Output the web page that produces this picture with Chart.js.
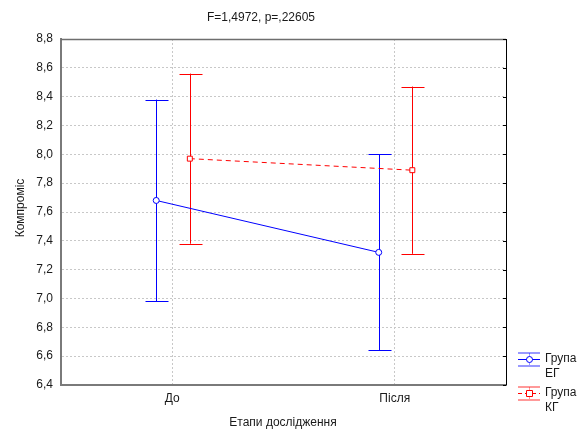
<!DOCTYPE html>
<html>
<head>
<meta charset="utf-8">
<script src="https://cdn.jsdelivr.net/npm/chart.js@4/dist/chart.umd.min.js"></script>
<style>
  html, body { margin: 0; padding: 0; background: #fff; }
  #wrap { width: 583px; height: 429px; }
</style>
</head>
<body>
<div id="wrap"><canvas id="c" width="583" height="429"></canvas></div>
<script>
// Stages of the study (x categories)
const categories = ['До', 'Після'];
// Group ЕГ: means and interval bounds
const egMeans = [7.68, 7.32];
const egLower = [6.98, 6.64];
const egUpper = [8.38, 8.00];
// Group КГ: means and interval bounds
const kgMeans = [7.97, 7.89];
const kgLower = [7.38, 7.31];
const kgUpper = [8.56, 8.47];
// Y tick range
const yMin = 6.4, yMax = 8.8, yStep = 0.2;

const titleText = 'F=1,4972, p=,22605';
const xTitle = 'Етапи дослідження';
const yTitle = 'Компроміс';
const legendLabels = [['Група', 'ЕГ'], ['Група', 'КГ']];

const FONT = "'Liberation Sans', Arial, sans-serif";
const BLUE = '#0000ff';
const RED = '#ff0000';
const EG_SHIFT = -0.072, KG_SHIFT = 0.079;

const toPoints = (vals, shift) => vals.map((v, i) => ({ x: i + 0.5 + shift, y: v }));

const groups = [
  { means: egMeans, lo: egLower, hi: egUpper, shift: EG_SHIFT, color: BLUE },
  { means: kgMeans, lo: kgLower, hi: kgUpper, shift: KG_SHIFT, color: RED }
];

// Whiskers for each mean
const errorBars = {
  id: 'errorBars',
  beforeDatasetsDraw(chart) {
    const { ctx, scales: { x, y } } = chart;
    ctx.save();
    ctx.lineWidth = 1;
    groups.forEach(g => {
      ctx.strokeStyle = g.color;
      g.means.forEach((m, i) => {
        const px = Math.round(x.getPixelForValue(i + 0.5 + g.shift)) + 0.5;
        const top = y.getPixelForValue(g.hi[i]);
        const bot = y.getPixelForValue(g.lo[i]);
        ctx.beginPath();
        ctx.moveTo(px, top); ctx.lineTo(px, bot);
        ctx.moveTo(px - 11, Math.round(top) + 0.5); ctx.lineTo(px + 12, Math.round(top) + 0.5);
        ctx.moveTo(px - 11, Math.round(bot) + 0.5); ctx.lineTo(px + 12, Math.round(bot) + 0.5);
        ctx.stroke();
      });
    });
    ctx.restore();
  }
};

// Frame, titles and legend
const decorations = {
  id: 'decorations',
  afterDraw(chart) {
    const { ctx, chartArea: a, scales: { y } } = chart;
    ctx.save();
    // top and right edges of the plot frame
    ctx.strokeStyle = '#6e6e6e';
    ctx.lineWidth = 1.5;
    ctx.beginPath();
    ctx.moveTo(a.left, a.top + 0.5); ctx.lineTo(a.right, a.top + 0.5);
    ctx.stroke();
    ctx.strokeStyle = '#000';
    ctx.lineWidth = 1;
    ctx.beginPath();
    ctx.moveTo(a.right + 0.5, a.top); ctx.lineTo(a.right + 0.5, a.bottom);
    for (let v = yMin; v <= yMax + 1e-9; v += yStep) {
      const py = Math.round(y.getPixelForValue(v)) + 0.5;
      ctx.moveTo(a.right - 3, py); ctx.lineTo(a.right, py);
    }
    ctx.stroke();

    ctx.fillStyle = '#1a1a1a';
    ctx.textBaseline = 'middle';
    ctx.textAlign = 'center';
    ctx.font = '12px ' + FONT;
    ctx.fillText(titleText, 261, 18);
    ctx.fillText(xTitle, 283, 423);
    ctx.save();
    ctx.translate(21, 208);
    ctx.rotate(-Math.PI / 2);
    ctx.fillText(yTitle, 0, 0);
    ctx.restore();

    // legend
    const items = [
      { y: 359, color: BLUE, faint: 'rgba(0,0,255,0.4)', dash: [], marker: 'circle' },
      { y: 393, color: RED, faint: 'rgba(255,0,0,0.4)', dash: [4, 3], marker: 'rect' }
    ];
    items.forEach((it, k) => {
      ctx.lineWidth = 2;
      ctx.strokeStyle = it.faint;
      ctx.setLineDash([]);
      ctx.beginPath();
      ctx.moveTo(518, it.y - 6); ctx.lineTo(540, it.y - 6);
      ctx.moveTo(518, it.y + 7); ctx.lineTo(540, it.y + 7);
      ctx.stroke();
      ctx.lineWidth = 1;
      ctx.beginPath();
      ctx.moveTo(529.5, it.y - 6); ctx.lineTo(529.5, it.y + 6);
      ctx.stroke();
      ctx.strokeStyle = it.color;
      ctx.setLineDash(it.dash);
      ctx.beginPath();
      ctx.moveTo(518, it.y + 0.5); ctx.lineTo(540, it.y + 0.5);
      ctx.stroke();
      ctx.setLineDash([]);
      ctx.fillStyle = '#fff';
      ctx.beginPath();
      if (it.marker === 'circle') ctx.arc(529.5, it.y + 0.5, 3, 0, Math.PI * 2);
      else ctx.rect(526.5, it.y - 2.5, 6, 6);
      ctx.fill();
      ctx.stroke();
      ctx.fillStyle = '#1a1a1a';
      ctx.textAlign = 'left';
      ctx.font = '12px ' + FONT;
      ctx.fillText(legendLabels[k][0], 545, it.y);
      ctx.fillText(legendLabels[k][1], 545, it.y + 15);
    });
    ctx.restore();
  }
};

new Chart(document.getElementById('c'), {
  type: 'line',
  data: {
    datasets: [
      {
        label: legendLabels[0].join(' '),
        data: toPoints(egMeans, EG_SHIFT),
        borderColor: BLUE,
        borderWidth: 1,
        pointStyle: 'circle',
        pointRadius: 3,
        pointBorderWidth: 1,
        pointBackgroundColor: '#fff',
        pointBorderColor: BLUE,
        fill: false,
        tension: 0
      },
      {
        label: legendLabels[1].join(' '),
        data: toPoints(kgMeans, KG_SHIFT),
        borderColor: RED,
        borderWidth: 1,
        borderDash: [5, 4],
        pointStyle: 'rect',
        pointRadius: 3.5,
        pointBorderWidth: 1,
        pointBackgroundColor: '#fff',
        pointBorderColor: RED,
        fill: false,
        tension: 0
      }
    ]
  },
  options: {
    responsive: false,
    animation: false,
    devicePixelRatio: 1,
    layout: { padding: { top: 39, right: 77, left: 0, bottom: 0 } },
    plugins: { legend: { display: false }, title: { display: false }, tooltip: { enabled: false } },
    scales: {
      x: {
        type: 'linear',
        min: 0,
        max: categories.length,
        afterBuildTicks: s => { s.ticks = categories.map((c, i) => ({ value: i + 0.5 })); },
        afterFit: s => { s.height = 44; },
        ticks: {
          callback: v => categories[Math.round(v - 0.5)],
          font: { family: FONT, size: 12 },
          color: '#1a1a1a',
          padding: 6,
          maxRotation: 0
        },
        grid: { color: '#c8c8c8', drawTicks: false, lineWidth: 1 },
        border: { color: '#7a7a7a', width: 2, dash: [2, 2] }
      },
      y: {
        min: yMin,
        max: yMax,
        afterFit: s => { s.width = 61; },
        ticks: {
          stepSize: yStep,
          callback: v => v.toFixed(1).replace('.', ','),
          font: { family: FONT, size: 12 },
          color: '#1a1a1a',
          padding: 8
        },
        grid: { color: '#c8c8c8', drawTicks: false, lineWidth: 1 },
        border: { color: '#7a7a7a', width: 2, dash: [2, 2] }
      }
    }
  },
  plugins: [errorBars, decorations]
});
</script>
</body>
</html>
